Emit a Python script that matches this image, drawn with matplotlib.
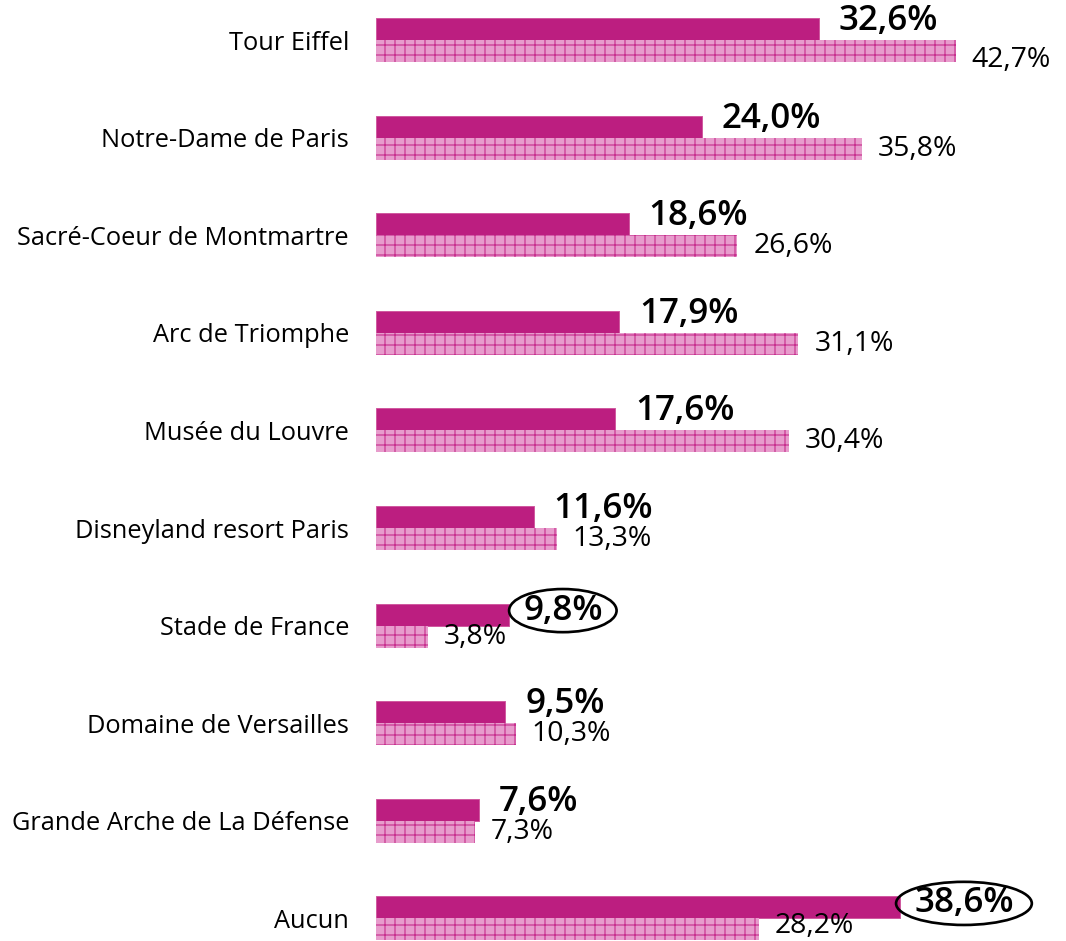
import matplotlib
matplotlib.use("Agg")
import matplotlib.pyplot as plt
import numpy as np

categories = ["Tour Eiffel", "Notre-Dame de Paris", "Sacré-Coeur de Montmartre",
              "Arc de Triomphe", "Musée du Louvre", "Disneyland resort Paris",
              "Stade de France", "Domaine de Versailles",
              "Grande Arche de La Défense", "Aucun"]
dark_values = [32.6, 24.0, 18.6, 17.9, 17.6, 11.6, 9.8, 9.5, 7.6, 38.6]
light_values = [42.7, 35.8, 26.6, 31.1, 30.4, 13.3, 3.8, 10.3, 7.3, 28.2]
circled = ["Stade de France", "Aucun"]

DARK = "#bc1e80"
LIGHT = "#e79ccc"
HATCH = "#c8308f"

DPI = 120
W, H = 1066, 941
plt.rcParams["font.family"] = ["Open Sans", "DejaVu Sans"]
plt.rcParams["hatch.color"] = HATCH
plt.rcParams["hatch.linewidth"] = 0.7

fig = plt.figure(figsize=(W / DPI, H / DPI), dpi=DPI)
ax = fig.add_axes([376 / W, 0, 1 - 376 / W, 1])

pxu = 13.58  # px per percent
row = 97.6
bh = 22 / row
y = np.arange(len(categories))

ax.barh(y - bh / 2, dark_values, height=bh, color=DARK, edgecolor="#d05aa0", linewidth=0.6)
ax.barh(y + bh / 2, light_values, height=bh, color=LIGHT, hatch="++", edgecolor=HATCH, linewidth=0)

ax.set_xlim(0, (W - 376) / pxu)
ax.set_ylim(9 + (H - 918.4) / row, -40 / row)

ax.set_yticks(y)
ax.set_yticklabels(categories, fontsize=15.2)
ax.tick_params(axis="y", length=0, pad=27 * 72 / DPI)
ax.set_xticks([])
for s in ax.spines.values():
    s.set_visible(False)

def fmt(v):
    return f"{v:.1f}%".replace(".", ",")

pt = 72 / DPI
n = len(categories)
for i, (c, dv, lv) in enumerate(zip(categories, dark_values, light_values)):
    if c in circled:
        ax.annotate(fmt(dv), (dv, i - bh / 2), xytext=(14 * pt, 4 * pt), textcoords="offset points",
                    ha="left", va="center", fontsize=21, fontweight="semibold",
                    bbox=dict(boxstyle="ellipse,pad=-0.05", fc="none", ec="black", lw=1.6))
    else:
        ax.annotate(fmt(dv), (dv, i - bh / 2), xytext=(20 * pt, 8 * pt), textcoords="offset points",
                    ha="left", va="center", fontsize=21, fontweight="semibold")
    dy = -9 if i == 0 else (3 if i == n - 1 else 0)
    ax.annotate(fmt(lv), (lv, i + bh / 2), xytext=(16 * pt, dy * pt), textcoords="offset points",
                ha="left", va="center", fontsize=17)

fig.savefig("out.png", dpi=DPI)
